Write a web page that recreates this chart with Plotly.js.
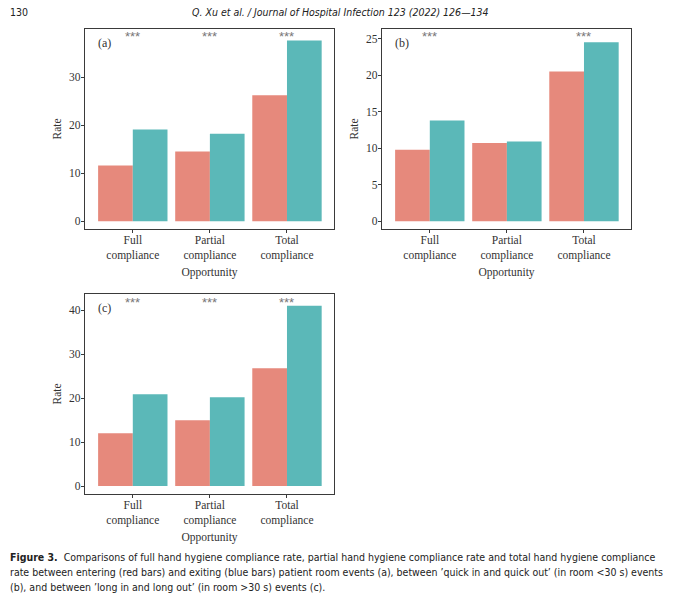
<!DOCTYPE html>
<html>
<head>
<meta charset="utf-8">
<script src="https://cdn.plot.ly/plotly-3.0.1.min.js"></script>
<style>
  html, body { margin: 0; padding: 0; background: #fff; }
  #chart { width: 680px; height: 595px; }
</style>
</head>
<body>
<div id="chart"></div>
<script>
// ── Data ───────────────────────────────────────────────────────────────────
const categories = ['Full<br>compliance', 'Partial<br>compliance', 'Total<br>compliance'];

const enterA = [11.6, 14.5, 26.2];
const exitA  = [19.1, 18.2, 37.6];
const enterB = [9.8, 10.7, 20.5];
const exitB  = [13.8, 10.9, 24.5];
const enterC = [12.0, 15.0, 26.8];
const exitC  = [20.9, 20.2, 41.0];

const starsA = ['***', '***', '***'];
const starsB = ['***', '', '***'];
const starsC = ['***', '***', '***'];

const ticksA = [0, 10, 20, 30];
const ticksB = [0, 5, 10, 15, 20, 25];
const ticksC = [0, 10, 20, 30, 40];

const RED   = '#E6897C';
const TEAL  = '#5BB8B8';
const INK   = '#333';
const SERIF = 'Liberation Serif, Times New Roman, serif';
const SANS  = 'DejaVu Sans Condensed, Liberation Sans, sans-serif';

// ── Helpers ────────────────────────────────────────────────────────────────
function bars(enter, exit, n) {
  const xa = n === 1 ? 'x' : 'x' + n;
  const ya = n === 1 ? 'y' : 'y' + n;
  const common = { type: 'bar', x: categories, xaxis: xa, yaxis: ya,
                   showlegend: false, hoverinfo: 'y' };
  return [
    Object.assign({}, common, { y: enter, marker: { color: RED,  line: { width: 0 } } }),
    Object.assign({}, common, { y: exit,  marker: { color: TEAL, line: { width: 0 } } }),
  ];
}

function xaxis(domain, anchor) {
  return {
    domain, anchor,
    type: 'category',
    range: [-0.62, 2.61],
    automargin: true,
    showline: true, mirror: true, linecolor: '#3a3a3a', linewidth: 1.2,
    ticks: 'outside', ticklen: 3, tickcolor: '#3a3a3a', ticklabelstandoff: -3,
    showgrid: false, zeroline: false, fixedrange: true,
    tickfont: { family: SERIF, size: 11.5, color: INK },
    title: { text: 'Opportunity', standoff: 7, font: { family: SERIF, size: 11.5, color: INK } },
  };
}

function yaxis(domain, anchor, range, tickvals) {
  return {
    domain, anchor, range, tickvals,
    automargin: true,
    showline: true, mirror: true, linecolor: '#3a3a3a', linewidth: 1.2,
    ticks: 'outside', ticklen: 3, tickcolor: '#3a3a3a', ticklabelstandoff: -2,
    showgrid: false, zeroline: false, fixedrange: true,
    tickfont: { family: SERIF, size: 11.5, color: INK },
    title: { text: 'Rate', standoff: 5, font: { family: SERIF, size: 11.5, color: INK } },
  };
}

function panelNotes(n, label, stars, starY) {
  const xr = (n === 1 ? 'x' : 'x' + n);
  const yr = (n === 1 ? 'y' : 'y' + n);
  const out = [{
    text: label, xref: xr + ' domain', yref: yr + ' domain', x: 0.044, y: 0.93,
    xanchor: 'left', yanchor: 'middle',
    showarrow: false, font: { family: SERIF, size: 12, color: INK },
  }];
  stars.forEach((s, i) => {
    if (!s) return;
    out.push({
      text: s, xref: xr, yref: yr + ' domain', x: categories[i], y: starY,
      yanchor: 'middle',
      showarrow: false, font: { family: 'Liberation Sans, sans-serif', size: 13, color: '#777' },
    });
  });
  return out;
}

// ── Page text (header + caption) ───────────────────────────────────────────
const pageFont = { family: SANS, size: 10.5, color: '#222' };
const pageText = [
  { text: '130', x: 8 / 680, y: 1 - 12 / 595, xanchor: 'left', font: pageFont },
  { text: '<i>Q. Xu et al. / Journal of Hospital Infection 123 (2022) 126\u2014134</i>',
    x: 340 / 680, y: 1 - 12 / 595, xanchor: 'center', font: pageFont },
  { text: '<b>Figure 3.</b>  Comparisons of full hand hygiene compliance rate, partial hand hygiene compliance rate and total hand hygiene compliance',
    x: 8 / 680, y: 1 - 557 / 595, xanchor: 'left', font: pageFont },
  { text: 'rate between entering (red bars) and exiting (blue bars) patient room events (a), between \u2019quick in and quick out\u2019 (in room <30 s) events',
    x: 8 / 680, y: 1 - 572 / 595, xanchor: 'left', font: pageFont },
  { text: '(b), and between \u2019long in and long out\u2019 (in room >30 s) events (c).',
    x: 8 / 680, y: 1 - 587 / 595, xanchor: 'left', font: pageFont },
].map(a => Object.assign({ xref: 'paper', yref: 'paper', showarrow: false, yanchor: 'middle' }, a));

const data = [].concat(bars(enterA, exitA, 1), bars(enterB, exitB, 2), bars(enterC, exitC, 3));

const layout = {
  width: 680, height: 595,
  margin: { t: 0, r: 0, b: 0, l: 0 },
  paper_bgcolor: '#fff', plot_bgcolor: '#fff',
  barmode: 'group', bargap: 0.1, bargroupgap: 0,
  font: { family: SERIF, color: INK },
  xaxis:  xaxis([85 / 680, 334 / 680], 'y'),
  yaxis:  yaxis([1 - 229 / 595, 1 - 29 / 595], 'x', [-1.6, 40.0], ticksA),
  xaxis2: xaxis([382 / 680, 631 / 680], 'y2'),
  yaxis2: yaxis([1 - 229 / 595, 1 - 29 / 595], 'x2', [-1.05, 26.3], ticksB),
  xaxis3: xaxis([85 / 680, 334 / 680], 'y3'),
  yaxis3: yaxis([1 - 494 / 595, 1 - 294 / 595], 'x3', [-1.8, 43.7], ticksC),
  annotations: [].concat(
    panelNotes(1, '(a)', starsA, 0.962),
    panelNotes(2, '(b)', starsB, 0.962),
    panelNotes(3, '(c)', starsC, 0.958),
    pageText
  ),
};

Plotly.newPlot('chart', data, layout, { displayModeBar: false, staticPlot: true });
</script>
</body>
</html>
